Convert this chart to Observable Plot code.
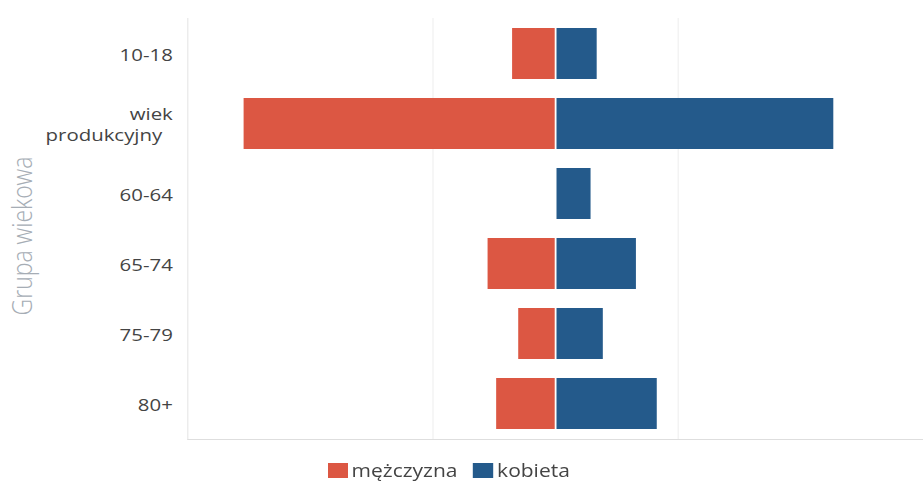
<!DOCTYPE html>
<html>
<head>
<meta charset="utf-8">
<script src="https://cdn.jsdelivr.net/npm/d3@7"></script>
<script src="https://cdn.jsdelivr.net/npm/@observablehq/plot@0.6"></script>
<style>
  html, body { margin: 0; padding: 0; background: #fff; overflow: hidden; }
  body { width: 923px; font-family: "Open Sans", sans-serif; }
  #wrap { width: 769px; transform: scaleX(1.2); transform-origin: 0 0; }
  #legend { display: flex; justify-content: flex-start; align-items: center; gap: 13px; margin-top: 10px; margin-left: 273px; font-size: 17.5px; line-height: 22px; color: #444; }
  #legend .item { display: flex; align-items: center; gap: 3px; }
  #legend .sw { width: 17px; height: 15px; display: inline-block; }
</style>
</head>
<body>
<div id="wrap">
  <div id="chart"></div>
  <div id="legend"></div>
</div>
<script>
const categories = ["10-18", "wiek produkcyjny", "60-64", "65-74", "75-79", "80+"];
const tickLabels = ["10-18", "wiek\nprodukcyjny\u00a0\u00a0", "60-64", "65-74", "75-79", "80+"];
const men   = [35, 254, 0, 55, 30, 48];
const women = [34, 227, 29, 66, 39, 83];
const seriesNames = ["mężczyzna", "kobieta"];
const seriesColors = ["#dc5743", "#245a8b"];
const gridTicks = [-100, 100];
const axisTitle = "Grupa wiekowa";

const rows = categories.map((c, i) => ({cat: c, men: men[i], women: women[i]}));

const plot = Plot.plot({
  width: 769,
  height: 449,
  marginLeft: 156,
  marginRight: 0,
  marginTop: 18,
  marginBottom: 10,
  style: {fontFamily: "'Open Sans', sans-serif", fontSize: "17px", color: "#444", background: "#fff", overflow: "visible"},
  x: {domain: [-300, 300], axis: null},
  y: {domain: categories, paddingInner: 0.27, paddingOuter: 0.135, label: null},
  marks: [
    Plot.ruleX(gridTicks, {stroke: "#f0f0f0", strokeWidth: 1}),
    Plot.ruleX([-300], {stroke: "#e8e8e8"}),
    Plot.frame({anchor: "bottom", stroke: "#dedede"}),
    Plot.barX(rows, {y: "cat", x1: 0, x2: d => -d.men, fill: seriesColors[0]}),
    Plot.barX(rows, {y: "cat", x1: 0, x2: "women", fill: seriesColors[1]}),
    Plot.ruleX([0], {stroke: "#ffffff", strokeWidth: 1.5}),
    Plot.axisY({tickSize: 0, tickPadding: 12.5, fontSize: 17, label: null, lineHeight: 1.24,
                tickFormat: (d) => tickLabels[categories.indexOf(d)]}),
    Plot.text([axisTitle], {frameAnchor: "left", textAnchor: "middle", rotate: -90, dx: -137, dy: 7,
                            fill: "#a6adb5", fontSize: 23, fontWeight: 300})
  ]
});
document.getElementById("chart").appendChild(plot);

const legend = document.getElementById("legend");
seriesNames.forEach((n, i) => {
  const item = document.createElement("span");
  item.className = "item";
  const sw = document.createElement("span");
  sw.className = "sw";
  sw.style.background = seriesColors[i];
  const t = document.createElement("span");
  t.textContent = n;
  item.appendChild(sw);
  item.appendChild(t);
  legend.appendChild(item);
});
</script>
</body>
</html>
